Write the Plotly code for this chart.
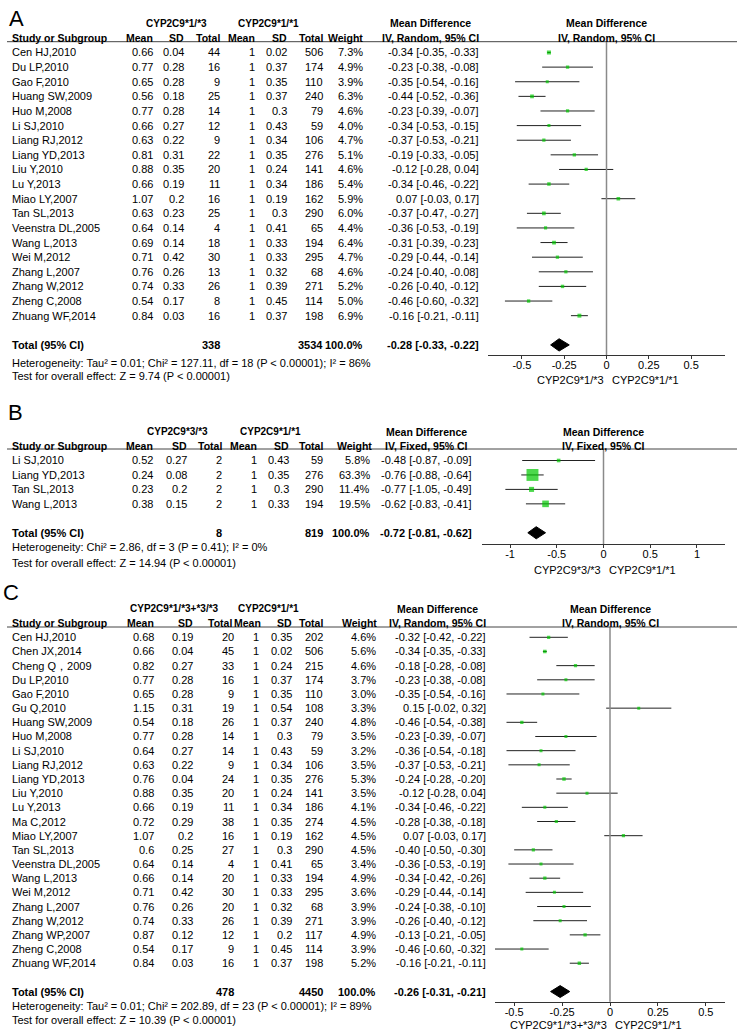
import math
import plotly.graph_objects as go

W, H = 737, 1031
FONT = "Liberation Sans, Arial, sans-serif"
GREEN = "#00c800"

# ---------- panel A: CYP2C9*1/*3 vs CYP2C9*1/*1
a_group = ["CYP2C9*1/*3", "CYP2C9*1/*1"]
a_method = "IV, Random, 95% CI"
a_study = ["Cen HJ,2010", "Du LP,2010", "Gao F,2010", "Huang SW,2009", "Huo M,2008",
           "Li SJ,2010", "Liang RJ,2012", "Liang YD,2013", "Liu Y,2010", "Lu Y,2013",
           "Miao LY,2007", "Tan SL,2013", "Veenstra DL,2005", "Wang L,2013", "Wei M,2012",
           "Zhang L,2007", "Zhang W,2012", "Zheng C,2008", "Zhuang WF,2014"]
a_mean1 = [0.66, 0.77, 0.65, 0.56, 0.77, 0.66, 0.63, 0.81, 0.88, 0.66, 1.07, 0.63, 0.64, 0.69, 0.71, 0.76, 0.74, 0.54, 0.84]
a_sd1 = [0.04, 0.28, 0.28, 0.18, 0.28, 0.27, 0.22, 0.31, 0.35, 0.19, 0.2, 0.23, 0.14, 0.14, 0.42, 0.26, 0.33, 0.17, 0.03]
a_n1 = [44, 16, 9, 25, 14, 12, 9, 22, 20, 11, 16, 25, 4, 18, 30, 13, 26, 8, 16]
a_mean2 = [1, 1, 1, 1, 1, 1, 1, 1, 1, 1, 1, 1, 1, 1, 1, 1, 1, 1, 1]
a_sd2 = [0.02, 0.37, 0.35, 0.37, 0.3, 0.43, 0.34, 0.35, 0.24, 0.34, 0.19, 0.3, 0.41, 0.33, 0.33, 0.32, 0.39, 0.45, 0.37]
a_n2 = [506, 174, 110, 240, 79, 59, 106, 276, 141, 186, 162, 290, 65, 194, 295, 68, 271, 114, 198]
a_weight = [7.3, 4.9, 3.9, 6.3, 4.6, 4.0, 4.7, 5.1, 4.6, 5.4, 5.9, 6.0, 4.4, 6.4, 4.7, 4.6, 5.2, 5.0, 6.9]
a_md = [-0.34, -0.23, -0.35, -0.44, -0.23, -0.34, -0.37, -0.19, -0.12, -0.34, 0.07, -0.37, -0.36, -0.31, -0.29, -0.24, -0.26, -0.46, -0.16]
a_lo = [-0.35, -0.38, -0.54, -0.52, -0.39, -0.53, -0.53, -0.33, -0.28, -0.46, -0.03, -0.47, -0.53, -0.39, -0.44, -0.40, -0.40, -0.60, -0.21]
a_hi = [-0.33, -0.08, -0.16, -0.36, -0.07, -0.15, -0.21, -0.05, 0.04, -0.22, 0.17, -0.27, -0.19, -0.23, -0.14, -0.08, -0.12, -0.32, -0.11]
a_total_n = [338, 3534]
a_pooled = [-0.28, -0.33, -0.22]
a_het = "Heterogeneity: Tau² = 0.01; Chi² = 127.11, df = 18 (P < 0.00001); I² = 86%"
a_test = "Test for overall effect: Z = 9.74 (P < 0.00001)"
a_ticks = [-0.5, -0.25, 0, 0.25, 0.5]

# ---------- panel B: CYP2C9*3/*3 vs CYP2C9*1/*1
b_group = ["CYP2C9*3/*3", "CYP2C9*1/*1"]
b_method = "IV, Fixed, 95% CI"
b_study = ["Li SJ,2010", "Liang YD,2013", "Tan SL,2013", "Wang L,2013"]
b_mean1 = [0.52, 0.24, 0.23, 0.38]
b_sd1 = [0.27, 0.08, 0.2, 0.15]
b_n1 = [2, 2, 2, 2]
b_mean2 = [1, 1, 1, 1]
b_sd2 = [0.43, 0.35, 0.3, 0.33]
b_n2 = [59, 276, 290, 194]
b_weight = [5.8, 63.3, 11.4, 19.5]
b_md = [-0.48, -0.76, -0.77, -0.62]
b_lo = [-0.87, -0.88, -1.05, -0.83]
b_hi = [-0.09, -0.64, -0.49, -0.41]
b_total_n = [8, 819]
b_pooled = [-0.72, -0.81, -0.62]
b_het = "Heterogeneity: Chi² = 2.86, df = 3 (P = 0.41); I² = 0%"
b_test = "Test for overall effect: Z = 14.94 (P < 0.00001)"
b_ticks = [-1, -0.5, 0, 0.5, 1]

# ---------- panel C: CYP2C9*1/*3+*3/*3 vs CYP2C9*1/*1
c_group = ["CYP2C9*1/*3+*3/*3", "CYP2C9*1/*1"]
c_method = "IV, Random, 95% CI"
c_study = ["Cen HJ,2010", "Chen JX,2014", "Cheng Q，2009", "Du LP,2010", "Gao F,2010",
           "Gu Q,2010", "Huang SW,2009", "Huo M,2008", "Li SJ,2010", "Liang RJ,2012",
           "Liang YD,2013", "Liu Y,2010", "Lu Y,2013", "Ma C,2012", "Miao LY,2007",
           "Tan SL,2013", "Veenstra DL,2005", "Wang L,2013", "Wei M,2012", "Zhang L,2007",
           "Zhang W,2012", "Zhang WP,2007", "Zheng C,2008", "Zhuang WF,2014"]
c_mean1 = [0.68, 0.66, 0.82, 0.77, 0.65, 1.15, 0.54, 0.77, 0.64, 0.63, 0.76, 0.88, 0.66, 0.72, 1.07, 0.6, 0.64, 0.66, 0.71, 0.76, 0.74, 0.87, 0.54, 0.84]
c_sd1 = [0.19, 0.04, 0.27, 0.28, 0.28, 0.31, 0.18, 0.28, 0.27, 0.22, 0.04, 0.35, 0.19, 0.29, 0.2, 0.25, 0.14, 0.14, 0.42, 0.26, 0.33, 0.12, 0.17, 0.03]
c_n1 = [20, 45, 33, 16, 9, 19, 26, 14, 14, 9, 24, 20, 11, 38, 16, 27, 4, 20, 30, 20, 26, 12, 9, 16]
c_mean2 = [1, 1, 1, 1, 1, 1, 1, 1, 1, 1, 1, 1, 1, 1, 1, 1, 1, 1, 1, 1, 1, 1, 1, 1]
c_sd2 = [0.35, 0.02, 0.24, 0.37, 0.35, 0.54, 0.37, 0.3, 0.43, 0.34, 0.35, 0.24, 0.34, 0.35, 0.19, 0.3, 0.41, 0.33, 0.33, 0.32, 0.39, 0.2, 0.45, 0.37]
c_n2 = [202, 506, 215, 174, 110, 108, 240, 79, 59, 106, 276, 141, 186, 274, 162, 290, 65, 194, 295, 68, 271, 117, 114, 198]
c_weight = [4.6, 5.6, 4.6, 3.7, 3.0, 3.3, 4.8, 3.5, 3.2, 3.5, 5.3, 3.5, 4.1, 4.5, 4.5, 4.5, 3.4, 4.9, 3.6, 3.9, 3.9, 4.9, 3.9, 5.2]
c_md = [-0.32, -0.34, -0.18, -0.23, -0.35, 0.15, -0.46, -0.23, -0.36, -0.37, -0.24, -0.12, -0.34, -0.28, 0.07, -0.40, -0.36, -0.34, -0.29, -0.24, -0.26, -0.13, -0.46, -0.16]
c_lo = [-0.42, -0.35, -0.28, -0.38, -0.54, -0.02, -0.54, -0.39, -0.54, -0.53, -0.28, -0.28, -0.46, -0.38, -0.03, -0.50, -0.53, -0.42, -0.44, -0.38, -0.40, -0.21, -0.60, -0.21]
c_hi = [-0.22, -0.33, -0.08, -0.08, -0.16, 0.32, -0.38, -0.07, -0.18, -0.21, -0.20, 0.04, -0.22, -0.18, 0.17, -0.30, -0.19, -0.26, -0.14, -0.10, -0.12, -0.05, -0.32, -0.11]
c_total_n = [478, 4450]
c_pooled = [-0.26, -0.31, -0.21]
c_het = "Heterogeneity: Tau² = 0.01; Chi² = 202.89, df = 23 (P < 0.00001); I² = 89%"
c_test = "Test for overall effect: Z = 10.39 (P < 0.00001)"
c_ticks = [-0.5, -0.25, 0, 0.25, 0.5]

col_heads = ["Mean", "SD", "Total", "Mean", "SD", "Total", "Weight"]

# pixel layout of each panel
lay_a = dict(label="A", label_x=9, label_y=18, row0=52.5, step=14.62, top=41.7, axis=355,
             x0=488, x1=725, rng=[-0.7, 0.7], cols=[153, 184, 220, 255, 287, 323, 363],
             hcols=[153, 184, 220, 255, 287, 323, 363],
             md_right=479, md_head=430, grp=[176, 268], het=362.7, test=376, axlab=380)
lay_b = dict(label="B", label_x=8, label_y=412, row0=460.5, step=14.45, top=449, axis=544,
             x0=482, x1=725, rng=[-1.3, 1.3], cols=[153, 187, 222, 257, 289, 323, 370],
             hcols=[153, 187, 222, 257, 289, 323, 372],
             md_right=472, md_head=426, grp=[177, 270], het=547.3, test=562.7, axlab=570)
lay_c = dict(label="C", label_x=3, label_y=592, row0=637.3, step=14.17, top=627, axis=1001.7,
             x0=495, x1=725, rng=[-0.6, 0.6], cols=[154, 193, 234, 259, 292, 323, 376],
             hcols=[154, 193, 232, 261, 292, 323, 377],
             md_right=486, md_head=437, grp=[174, 268], het=1006, test=1020, axlab=1025)


def fx(p):
    return p / W


def fy(p):
    return 1 - p / H


fig = go.Figure()
ann = []
shapes = []


def txt(x, y, s, anchor="left", bold=False, size=11, xref="paper"):
    ann.append(dict(x=x, y=y, xref=xref, yref="paper", text="<b>%s</b>" % s if bold else s,
                    showarrow=False, xanchor=anchor, yanchor="middle", borderpad=0, borderwidth=0,
                    font=dict(family=FONT, size=size, color="black")))


def panel(k, L, group, method, study, m1, s1, n1, m2, s2, n2, wt, md, lo, hi, tot_n, pooled, het, test, ticks):
    sfx = "" if k == 1 else str(k)
    xr, yr = "x" + sfx, "y" + sfx
    n = len(study)
    tot = n + 1

    def rowpx(r):
        return L["row0"] + r * L["step"]

    def row(p):
        return (p - L["row0"]) / L["step"]

    fig.update_layout({
        "yaxis" + sfx: dict(domain=[fy(L["axis"]), fy(L["top"])],
                            range=[row(L["axis"]), row(L["top"])], visible=False, fixedrange=True),
        "xaxis" + sfx: dict(domain=[fx(L["x0"]), fx(L["x1"])], range=L["rng"], anchor=yr,
                            tickvals=ticks, ticktext=["%g" % t for t in ticks],
                            showline=True, linecolor="#333", linewidth=1, ticks="outside",
                            ticklen=3, tickcolor="#333", showgrid=False, zeroline=False,
                            ticklabelstandoff=-3,
                            tickfont=dict(family=FONT, size=11, color="black"), fixedrange=True),
    })

    # confidence intervals
    xs, ys = [], []
    for i in range(n):
        xs += [lo[i], hi[i], None]
        ys += [i, i, None]
    fig.add_trace(go.Scatter(x=xs, y=ys, mode="lines", line=dict(color="#222", width=1),
                             xaxis=xr, yaxis=yr, showlegend=False, hoverinfo="skip"))
    fig.add_trace(go.Scatter(x=md, y=list(range(n)), mode="markers", xaxis=xr, yaxis=yr,
                             marker=dict(symbol="square", color=GREEN,
                                         size=[max(3, 1.5 * math.sqrt(w)) for w in wt],
                                         line=dict(width=0)),
                             showlegend=False, hoverinfo="skip"))
    h = 0.42
    fig.add_trace(go.Scatter(x=[pooled[1], pooled[0], pooled[2], pooled[0], pooled[1]],
                             y=[tot, tot - h, tot, tot + h, tot], mode="lines", fill="toself",
                             fillcolor="black", line=dict(color="black", width=1),
                             xaxis=xr, yaxis=yr, showlegend=False, hoverinfo="skip"))

    # zero line + header rule
    shapes.append(dict(type="line", xref=xr, x0=0, x1=0, yref=yr + " domain", y0=0, y1=1,
                       line=dict(color="#8a8a8a", width=1.5)))
    shapes.append(dict(type="line", xref="paper", x0=fx(7), x1=1, yref="paper",
                       y0=fy(L["top"]), y1=fy(L["top"]), line=dict(color="#444", width=1)))

    # headers
    txt(fx(L["label_x"]), fy(L["label_y"]), L["label"], size=22)
    txt(fx(L["grp"][0]), fy(rowpx(-2)), group[0], anchor="center", bold=True, size=10)
    txt(fx(L["grp"][1]), fy(rowpx(-2)), group[1], anchor="center", bold=True, size=10)
    txt(fx(12), fy(rowpx(-1)), "Study or Subgroup", bold=True, size=10.5)
    for c, head in zip(L["hcols"], col_heads):
        txt(fx(c), fy(rowpx(-1)), head, anchor="right", bold=True, size=10.5)
    txt(fx(L["md_head"]), fy(rowpx(-2)), "Mean Difference", anchor="center", bold=True, size=10.5)
    txt(fx(L["md_head"]), fy(rowpx(-1)), method, anchor="center", bold=True, size=10.5)
    txt(0.5, fy(rowpx(-2)), "Mean Difference", anchor="center", bold=True, size=10.5, xref=xr + " domain")
    txt(0.5, fy(rowpx(-1)), method, anchor="center", bold=True, size=10.5, xref=xr + " domain")

    # study rows
    for i in range(n):
        y = fy(rowpx(i))
        txt(fx(12), y, study[i])
        vals = [str(m1[i]), str(s1[i]), str(n1[i]), str(m2[i]), str(s2[i]), str(n2[i]), "%.1f%%" % wt[i]]
        for c, v in zip(L["cols"], vals):
            txt(fx(c), y, v, anchor="right")
        txt(fx(L["md_right"]), y, "%.2f [%.2f, %.2f]" % (md[i], lo[i], hi[i]), anchor="right")

    # total
    y = fy(rowpx(tot))
    txt(fx(12), y, "Total (95% CI)", bold=True)
    txt(fx(L["cols"][2]), y, str(tot_n[0]), anchor="right", bold=True)
    txt(fx(L["cols"][5]), y, str(tot_n[1]), anchor="right", bold=True)
    txt(fx(L["cols"][6]), y, "100.0%", anchor="right", bold=True)
    txt(fx(L["md_right"]), y, "%.2f [%.2f, %.2f]" % tuple(pooled), anchor="right", bold=True)
    txt(fx(12), fy(L["het"]), het)
    txt(fx(12), fy(L["test"]), test)

    # favours labels
    ann.append(dict(x=0, y=fy(L["axlab"]), xref=xr, yref="paper", text=group[0], showarrow=False,
                    xanchor="right", yanchor="middle", xshift=-2, borderpad=0,
                    font=dict(family=FONT, size=11, color="black")))
    ann.append(dict(x=0, y=fy(L["axlab"]), xref=xr, yref="paper", text=group[1], showarrow=False,
                    xanchor="left", yanchor="middle", xshift=4, borderpad=0,
                    font=dict(family=FONT, size=11, color="black")))


panel(1, lay_a, a_group, a_method, a_study, a_mean1, a_sd1, a_n1, a_mean2, a_sd2, a_n2,
      a_weight, a_md, a_lo, a_hi, a_total_n, a_pooled, a_het, a_test, a_ticks)
panel(2, lay_b, b_group, b_method, b_study, b_mean1, b_sd1, b_n1, b_mean2, b_sd2, b_n2,
      b_weight, b_md, b_lo, b_hi, b_total_n, b_pooled, b_het, b_test, b_ticks)
panel(3, lay_c, c_group, c_method, c_study, c_mean1, c_sd1, c_n1, c_mean2, c_sd2, c_n2,
      c_weight, c_md, c_lo, c_hi, c_total_n, c_pooled, c_het, c_test, c_ticks)

fig.update_layout(width=W, height=H, margin=dict(l=0, r=0, t=0, b=0),
                  paper_bgcolor="white", plot_bgcolor="white",
                  font=dict(family=FONT, size=11, color="black"),
                  annotations=ann, shapes=shapes, showlegend=False)
# drop the browser's default 8px body margin so the figure sits at the page corner
fig.write_html("out.html", config={"displayModeBar": False},
               post_script="document.body.style.margin='0';")
